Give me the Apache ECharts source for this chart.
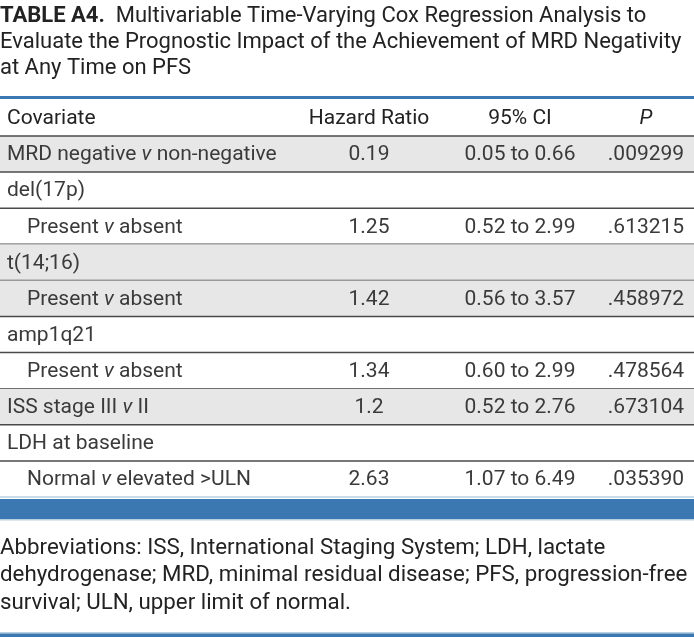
<!DOCTYPE html>
<html><head><meta charset="utf-8">
<script src="https://cdn.jsdelivr.net/npm/echarts@6/dist/echarts.min.js"></script>
<style>html,body{margin:0;padding:0;background:#fff}#c{width:694px;height:637px}</style>
</head><body><div id="c"></div>
<script>
const titleLines = ['Multivariable Time-Varying Cox Regression Analysis to','Evaluate the Prognostic Impact of the Achievement of MRD Negativity','at Any Time on PFS'];
const headers = ['Covariate','Hazard Ratio','95% CI','P'];
const covariates = ['MRD negative v non-negative','del(17p)','Present v absent','t(14;16)','Present v absent','amp1q21','Present v absent','ISS stage III v II','LDH at baseline','Normal v elevated >ULN'];
const indent = [0,0,1,0,1,0,1,0,0,1];
const shaded = [1,0,0,1,1,0,0,1,0,0];
const hazardRatio = ['0.19','','1.25','','1.42','','1.34','1.2','','2.63'];
const ciLow = [0.05,null,0.52,null,0.56,null,0.60,0.52,null,1.07];
const ciHigh = [0.66,null,2.99,null,3.57,null,2.99,2.76,null,6.49];
const pValues = [0.009299,null,0.613215,null,0.458972,null,0.478564,0.673104,null,0.035390];
const footLines = ['Abbreviations: ISS, International Staging System; LDH, lactate','dehydrogenase; MRD, minimal residual disease; PFS, progression-free','survival; ULN, upper limit of normal.'];

const FONT = 'Roboto';
const TXT = '#3a3a3a';
const BLUE = '#3b77b0';
const LIGHT = '#b9cfe3';
const BODY = 21;
const colX = [7, 369, 520, 646];

function richV(s){ return s.replace(/ v /g,' {i|v} '); }
const rich = { i:{fontStyle:'italic',fontFamily:FONT,fontSize:BODY,fill:TXT,color:TXT} };

const chart = echarts.init(document.getElementById('c'));
const rows = covariates.map((c,i)=>i);

function renderItem(params, api){
  const idx = api.value(0);
  const cs = params.coordSys;
  const c = api.coord([0, idx]);
  const h = api.size([0,1])[1];
  const top = c[1]-h/2, bot = c[1]+h/2;
  const children = [];
  if (shaded[idx]) children.push({type:'rect',shape:{x:cs.x,y:top,width:cs.width,height:h},style:{fill:'#e7e7e7'}});
  if (idx===0) children.push({type:'line',shape:{x1:cs.x,y1:top,x2:cs.x+cs.width,y2:top},style:{stroke:'#4a4a4a',lineWidth:1.5}});
  const last = idx===covariates.length-1;
  children.push({type:'line',shape:{x1:cs.x,y1:bot,x2:cs.x+cs.width,y2:bot},style:{stroke:last?LIGHT:'#4a4a4a',lineWidth:1.5}});
  const base = {fontFamily:FONT,fontSize:BODY,fill:TXT,verticalAlign:'middle'};
  const cy = c[1]+1;
  children.push({type:'text',style:Object.assign({},base,{x:colX[0]+(indent[idx]?20:0),y:cy,text:richV(covariates[idx]),rich:rich,align:'left'})});
  if (hazardRatio[idx]) children.push({type:'text',style:Object.assign({},base,{x:colX[1],y:cy,text:hazardRatio[idx],align:'center'})});
  if (ciLow[idx]!=null) children.push({type:'text',style:Object.assign({},base,{x:colX[2],y:cy,text:ciLow[idx].toFixed(2)+' to '+ciHigh[idx].toFixed(2),align:'center'})});
  if (pValues[idx]!=null) children.push({type:'text',style:Object.assign({},base,{x:colX[3],y:cy,text:pValues[idx].toFixed(6).replace(/^0/,''),align:'center'})});
  return {type:'group',children};
}

const TS = 22;
const graphics = [];
graphics.push({type:'text',left:0,top:5,style:{text:'{b|TABLE A4.}  '+titleLines[0],rich:{b:{fontWeight:'bold',fontFamily:FONT,fontSize:TS,fill:'#222'}},fontFamily:FONT,fontSize:TS,fill:'#222'}});
graphics.push({type:'text',left:0,top:31,style:{text:titleLines[1],fontFamily:FONT,fontSize:TS,fill:'#222'}});
graphics.push({type:'text',left:0,top:57,style:{text:titleLines[2],fontFamily:FONT,fontSize:TS,fill:'#222'}});
graphics.push({type:'rect',shape:{x:0,y:96,width:694,height:3},style:{fill:BLUE}});
const hy = 119;
graphics.push({type:'text',x:colX[0],y:hy,style:{text:headers[0],fontFamily:FONT,fontSize:BODY,fill:'#222',verticalAlign:'middle',align:'left'}});
graphics.push({type:'text',x:colX[1],y:hy,style:{text:headers[1],fontFamily:FONT,fontSize:BODY,fill:'#222',verticalAlign:'middle',align:'center'}});
graphics.push({type:'text',x:colX[2],y:hy,style:{text:headers[2],fontFamily:FONT,fontSize:BODY,fill:'#222',verticalAlign:'middle',align:'center'}});
graphics.push({type:'text',x:colX[3],y:hy,style:{text:headers[3],fontFamily:FONT,fontSize:BODY,fontStyle:'italic',fill:'#222',verticalAlign:'middle',align:'center'}});
graphics.push({type:'rect',shape:{x:0,y:499,width:694,height:20},style:{fill:BLUE}});
graphics.push({type:'rect',shape:{x:0,y:519,width:694,height:1.5},style:{fill:LIGHT}});
footLines.forEach((t,i)=>graphics.push({type:'text',left:0,top:537+i*27.5,style:{text:t,fontFamily:FONT,fontSize:22.3,fill:'#222'}}));
graphics.push({type:'rect',shape:{x:0,y:632,width:694,height:1.5},style:{fill:LIGHT}});
graphics.push({type:'rect',shape:{x:0,y:633.5,width:694,height:4},style:{fill:BLUE}});

chart.setOption({
  animation:false,
  grid:{left:0,right:0,top:136,height:361},
  xAxis:{type:'value',min:0,max:1,show:false},
  yAxis:{type:'category',data:rows,inverse:true,show:false},
  series:[{type:'custom',renderItem:renderItem,data:rows.map(i=>[i]),encode:{y:0},clip:false}],
  graphic:graphics
});
</script></body></html>
